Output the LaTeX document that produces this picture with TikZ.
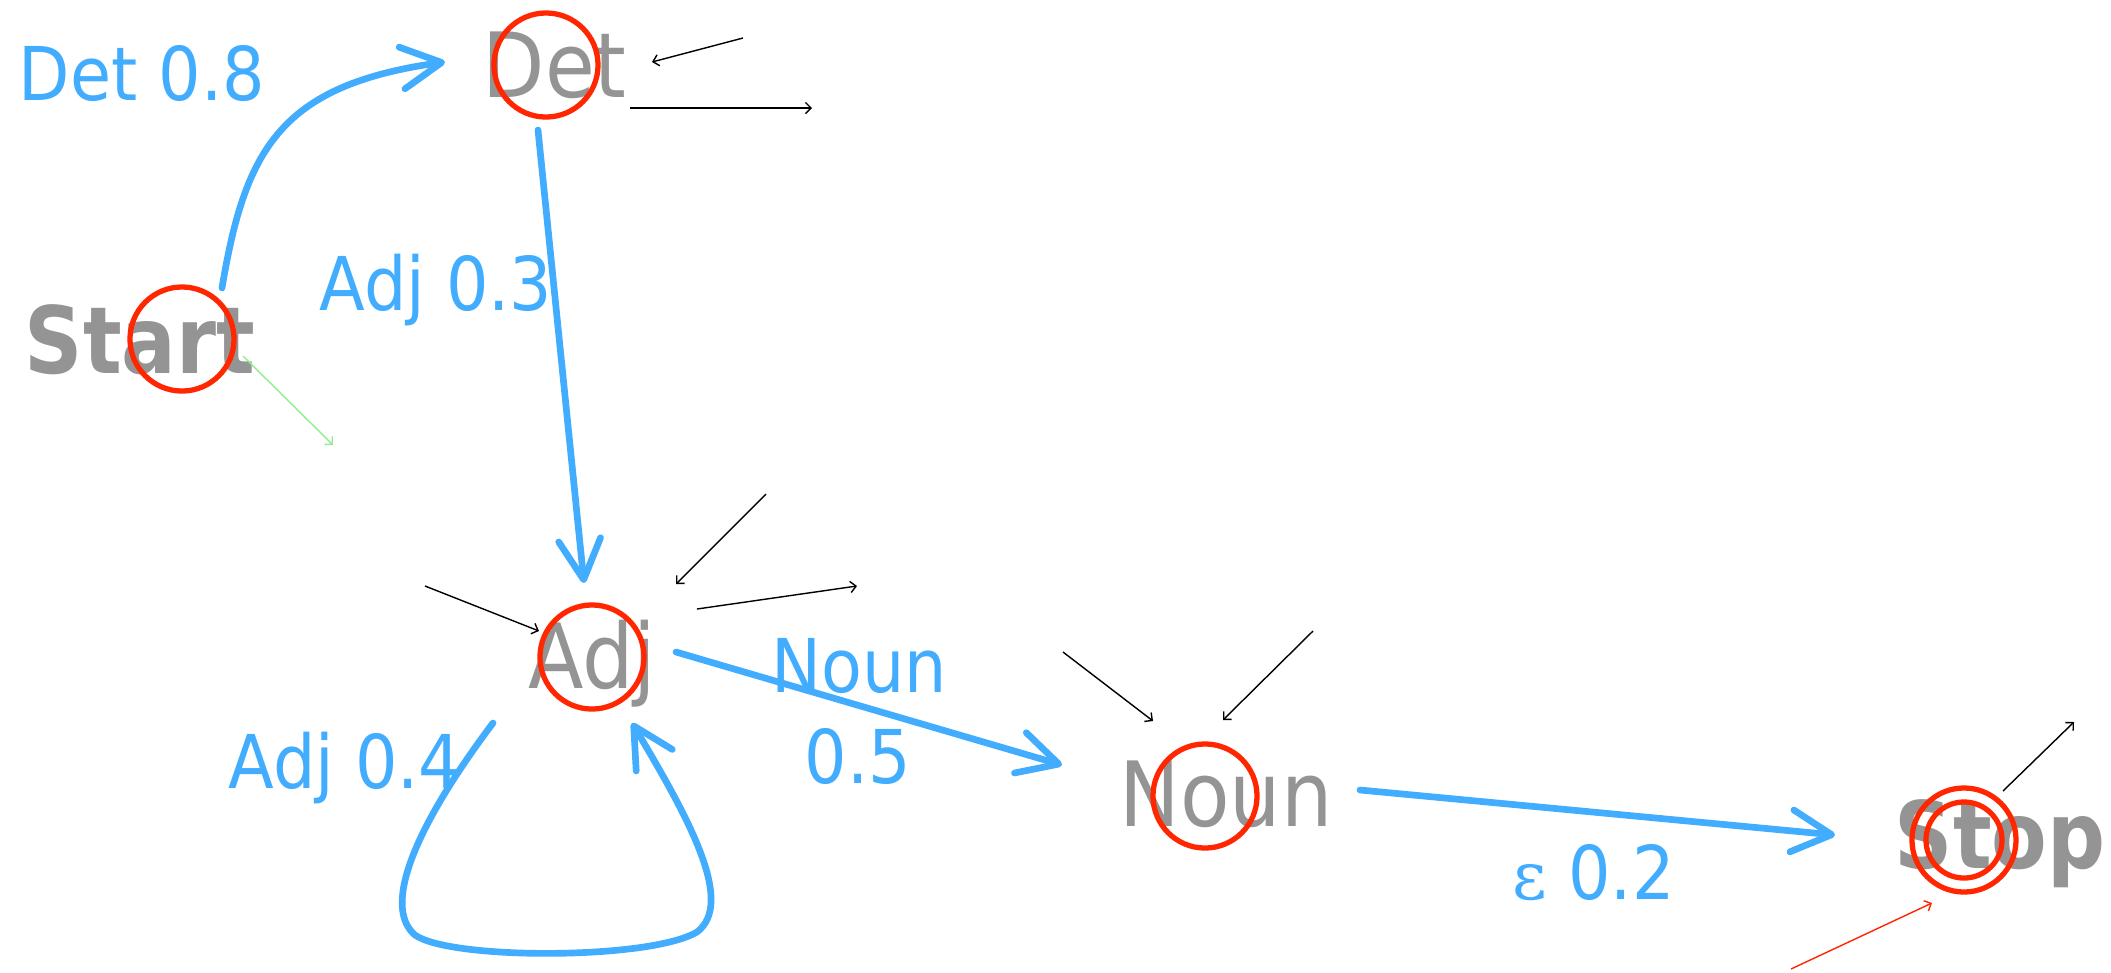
\documentclass[tikz,border=0pt]{standalone}
\usepackage{fontspec}
\usetikzlibrary{arrows.meta,calc}
\newfontfamily\condfont{DejaVu Sans Condensed}
\newfontfamily\condbold{DejaVu Sans Condensed Bold}[FakeStretch=0.97]
\newfontfamily\serifeps{DejaVu Serif}
\definecolor{lblblue}{RGB}{66,173,255}
\definecolor{txtgray}{RGB}{148,148,148}
\definecolor{circred}{RGB}{255,38,0}
\definecolor{lightgreen}{RGB}{144,238,144}
\begin{document}
\begin{tikzpicture}[x=0.01cm,y=-0.01cm,
  state/.style={circle,draw=circred,line width=1.5pt,minimum size=1.04cm,inner sep=0pt},
  sname/.style={anchor=base west,inner sep=0pt,text=txtgray,font=\condfont\fontsize{25.6}{30}\selectfont},
  sbold/.style={anchor=base west,inner sep=0pt,text=txtgray,font=\condbold\fontsize{26.4}{30}\selectfont},
  elabel/.style={anchor=base west,inner sep=0pt,text=lblblue,font=\condfont\fontsize{21.1}{26}\selectfont},
  trans/.style={draw=lblblue,line width=1.9pt,line cap=round,line join=round,-{Straight Barb[length=0.4cm,width=0.42cm,round]}},
  stub/.style={line width=0.4pt,-{Straight Barb[length=1.6pt,width=3.2pt]}},
]
\fill[white] (0,0) rectangle (2111,972);
\useasboundingbox (0,0) rectangle (2111,972);

% state names
\node[sbold] (starttxt) at (24,373) {Start};
\node[sname] (dettxt) at (482,97) {Det};
\node[sname] (adjtxt) at (528,688) {Adj};
\node[sname] (nountxt) at (1119,826) {Noun};
\node[sbold] (stoptxt) at (1894,868) {Stop};

% states
\node[state] (start) at (182,339) {};
\node[state] (det) at (546,65) {};
\node[state] (adj) at (592,657) {};
\node[state] (noun) at (1205,796) {};
\node[state] (stop) at (1964,840) {};
\node[state,minimum size=0.76cm] (stopin) at (stop) {};

% transitions
\draw[trans] ($(start)+(40,-51)$) .. controls (245,150) and (280,85) .. ($(det)+(-101,-3)$);
\draw[trans] ($(det)+(-8,65)$) -- ($(adj)+(-8,-74)$);
\begin{scope}[shift={(adj.center)}]
\draw[trans] (-99,66) .. controls (-172,163) and (-212,248) .. (-177,278)
  .. controls (-142,303) and (58,303) .. (105,275)
  .. controls (143,246) and (98,163) .. (40,66);
\end{scope}
\draw[trans] ($(adj)+(84,-5)$) -- ($(noun)+(-143,-31)$);
\draw[trans] ($(noun)+(155,-6)$) -- ($(stop)+(-129,-5)$);

% transition labels
\node[elabel] (l1) at (18,100) {Det 0.8};
\node[elabel] (l2) at (319,310) {Adj 0.3};
\node[elabel] (l3) at (228,788) {Adj 0.4};
\node[elabel] (l4a) at (771,692) {Noun};
\node[elabel] (l4b) at (804,783) {0.5};
\node[elabel] (l5) at (1512,899) {{\serifeps\fontsize{19}{24}\selectfont ε} 0.2};

% stub arrows
\coordinate (a1) at (743,38);  \coordinate (a2) at (652,62);
\coordinate (b1) at (630,108); \coordinate (b2) at (812,108);
\coordinate (c1) at (425,586); \coordinate (c2) at (539,631);
\coordinate (d1) at (766,494); \coordinate (d2) at (676,584);
\coordinate (e1) at (697,609); \coordinate (e2) at (857,586);
\coordinate (f1) at (1063,652); \coordinate (f2) at (1153,721);
\coordinate (g1) at (1313,631); \coordinate (g2) at (1223,720);
\coordinate (h1) at (2003,791); \coordinate (h2) at (2074,722);
\coordinate (i1) at (1791,969); \coordinate (i2) at (1932,903);
\coordinate (j1) at (243,356); \coordinate (j2) at (333,445);
\draw[stub] (a1) -- (a2);
\draw[stub] (b1) -- (b2);
\draw[stub] (c1) -- (c2);
\draw[stub] (d1) -- (d2);
\draw[stub] (e1) -- (e2);
\draw[stub] (f1) -- (f2);
\draw[stub] (g1) -- (g2);
\draw[stub] (h1) -- (h2);
\draw[stub,draw=circred] (i1) -- (i2);
\draw[stub,draw=lightgreen] (j1) -- (j2);
\end{tikzpicture}
\end{document}
